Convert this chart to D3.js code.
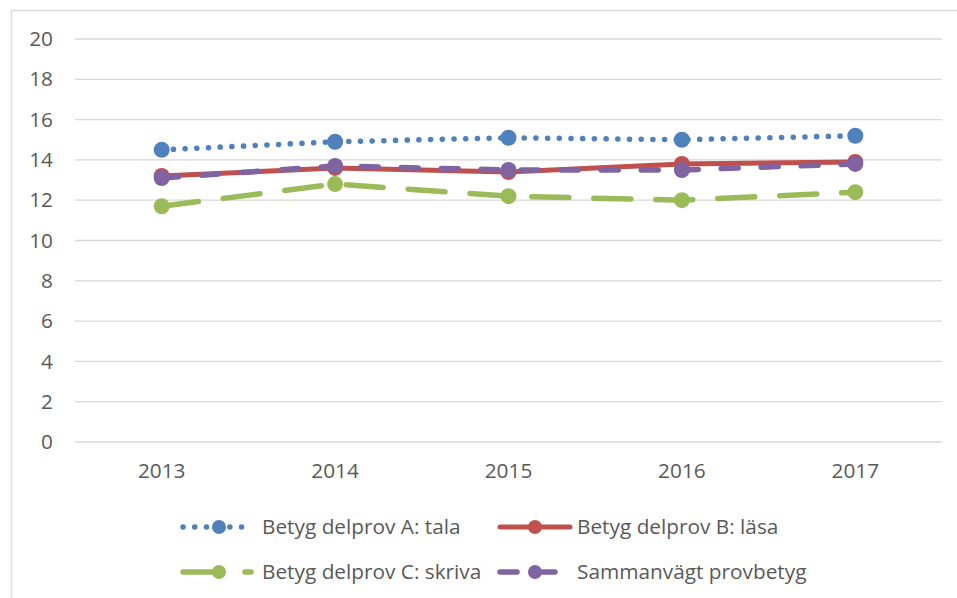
<!DOCTYPE html>
<html>
<head>
<meta charset="utf-8">
<script src="https://cdn.jsdelivr.net/npm/d3@7"></script>
<style>
  body { margin: 0; background: #fff; }
  text { font-family: "Open Sans", "Noto Sans", sans-serif; fill: #595959; }
</style>
</head>
<body>
<div id="chart"></div>
<script>
// data
const years = ["2013", "2014", "2015", "2016", "2017"];
const talaA = [14.5, 14.9, 15.1, 15.0, 15.2];
const lasaB = [13.2, 13.6, 13.4, 13.8, 13.9];
const skrivaC = [11.7, 12.8, 12.2, 12.0, 12.4];
const sammanvagt = [13.1, 13.7, 13.5, 13.5, 13.8];
const yTicks = [0, 2, 4, 6, 8, 10, 12, 14, 16, 18, 20];

const series = [
  {name: "Betyg delprov A: tala", values: talaA, color: "#4F81BD", dash: "0.1 11.6", w: 5.5},
  {name: "Betyg delprov B: läsa", values: lasaB, color: "#C0504D", dash: null, w: 5},
  {name: "Betyg delprov C: skriva", values: skrivaC, color: "#9BBB59", dash: "37 25", w: 5.5},
  {name: "Sammanvägt provbetyg", values: sammanvagt, color: "#8064A2", dash: "17 23", w: 5.5},
];

const width = 957, height = 598;
const plotLeft = 75, plotRight = 942, plotTop = 39, plotBottom = 442;
const fontSize = 20.8;

const svg = d3.select("#chart").append("svg")
  .attr("width", width)
  .attr("height", height);

// frame
svg.append("path")
  .attr("d", "M11.5," + height + " V10.5 H" + width)
  .attr("fill", "none")
  .attr("stroke", "#D9D9D9")
  .attr("stroke-width", 1.5);

let x = d3.scaleBand().domain(years).range([plotLeft, plotRight]);
let y = d3.scaleLinear().domain([0, 20]).range([plotBottom, plotTop]);
const cx = d => x(d) + x.bandwidth() / 2;

// gridlines
svg.append("g").selectAll("line")
  .data(yTicks)
  .enter().append("line")
  .attr("x1", plotLeft).attr("x2", plotRight)
  .attr("y1", d => y(d)).attr("y2", d => y(d))
  .attr("stroke", "#D9D9D9")
  .attr("stroke-width", 1.3);

// y axis labels
let yAxis = d3.axisLeft(y).tickValues(yTicks).tickSize(0).tickPadding(0);
let gy = svg.append("g").attr("transform", "translate(53,0)").call(yAxis);
gy.select(".domain").remove();
gy.selectAll("text").attr("font-size", fontSize).attr("fill", "#595959")
  .style("font-family", "'Open Sans', sans-serif");

// x axis labels
let xAxis = d3.axisBottom(x).tickSize(0).tickPadding(0);
let gx = svg.append("g").attr("transform", "translate(0,463)").call(xAxis);
gx.select(".domain").remove();
gx.selectAll("text").attr("font-size", fontSize).attr("fill", "#595959")
  .style("font-family", "'Open Sans', sans-serif");

const line = d3.line().x((d, i) => cx(years[i])).y(d => y(d));

// lines and markers
series.forEach(s => {
  let g = svg.append("g");
  g.append("path")
    .attr("d", line(s.values))
    .attr("fill", "none")
    .attr("stroke", s.color)
    .attr("stroke-width", s.w)
    .attr("stroke-linecap", "round")
    .attr("stroke-linejoin", "round")
    .attr("stroke-dasharray", s.dash);
  g.selectAll("circle")
    .data(s.values)
    .enter().append("circle")
    .attr("cx", (d, i) => cx(years[i]))
    .attr("cy", d => y(d))
    .attr("r", 8)
    .attr("fill", s.color);
});

// legend
const legendPos = [
  {x: 183, y: 527, tx: 262},
  {x: 500, y: 527, tx: 577},
  {x: 183, y: 572, tx: 262},
  {x: 500, y: 572, tx: 577},
];
const sampleDash = ["0.1 11.6", null, "37 25", "17 21"];
const sampleLen = [67, 70, 68, 61];

series.forEach((s, i) => {
  let p = legendPos[i];
  let g = svg.append("g");
  g.append("line")
    .attr("x1", p.x).attr("x2", p.x + sampleLen[i])
    .attr("y1", p.y).attr("y2", p.y)
    .attr("stroke", s.color)
    .attr("stroke-width", s.w)
    .attr("stroke-linecap", "round")
    .attr("stroke-dasharray", sampleDash[i]);
  g.append("circle")
    .attr("cx", p.x + (i % 2 == 0 ? 36 : 35))
    .attr("cy", p.y)
    .attr("r", 7)
    .attr("fill", s.color);
  g.append("text")
    .attr("x", p.tx)
    .attr("y", p.y)
    .attr("dy", "0.35em")
    .attr("font-size", fontSize)
    .text(s.name);
});
</script>
</body>
</html>
